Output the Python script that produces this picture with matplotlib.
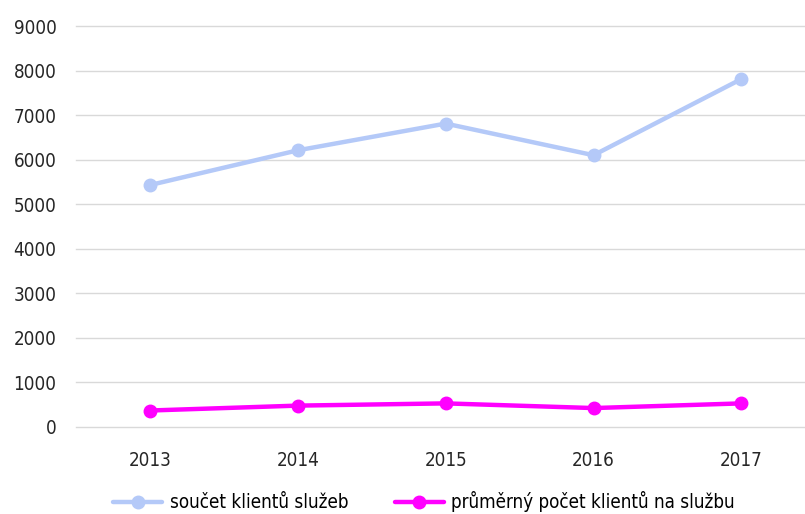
import matplotlib
matplotlib.use("Agg")
import matplotlib.pyplot as plt

years = ["2013", "2014", "2015", "2016", "2017"]
total_clients = [5430, 6210, 6810, 6100, 7810]
avg_clients = [370, 480, 530, 425, 530]

plt.rcParams["font.family"] = ["DejaVu Sans"]
plt.rcParams["font.stretch"] = "condensed"

fig = plt.figure(figsize=(8.05, 5.14), dpi=100)
ax = fig.add_axes([76 / 805, 1 - 427 / 514, 1 - 76 / 805, (427 - 26) / 514])

x = range(len(years))
ax.plot(x, total_clients, color="#B4C9F8", lw=3.2, marker="o", ms=9,
        label="součet klientů služeb", solid_capstyle="round")
ax.plot(x, avg_clients, color="#FF00FF", lw=3.2, marker="o", ms=9,
        label="průměrný počet klientů na službu", solid_capstyle="round")

ax.set_xlim(-0.5, 4.43)
ax.set_ylim(0, 9000)
ax.set_yticks(range(0, 9001, 1000))
ax.set_xticks(list(x))
ax.set_xticklabels(years)
ax.grid(axis="y", color="#D9D9D9", lw=1)
for gl in ax.get_ygridlines():
    gl.set_clip_on(False)
ax.set_axisbelow(True)
for s in ax.spines.values():
    s.set_visible(False)
ax.tick_params(axis="both", length=0, labelsize=13.5, colors="#262626")
ax.tick_params(axis="y", pad=14)
ax.tick_params(axis="x", pad=17)

fig.legend(loc="center", bbox_to_anchor=(424 / 805, 1 - 502 / 514), ncol=2,
           frameon=False, fontsize=13.5, handlelength=2.6, columnspacing=2.5,
           handletextpad=0.4)

fig.savefig("out.png", dpi=100)
